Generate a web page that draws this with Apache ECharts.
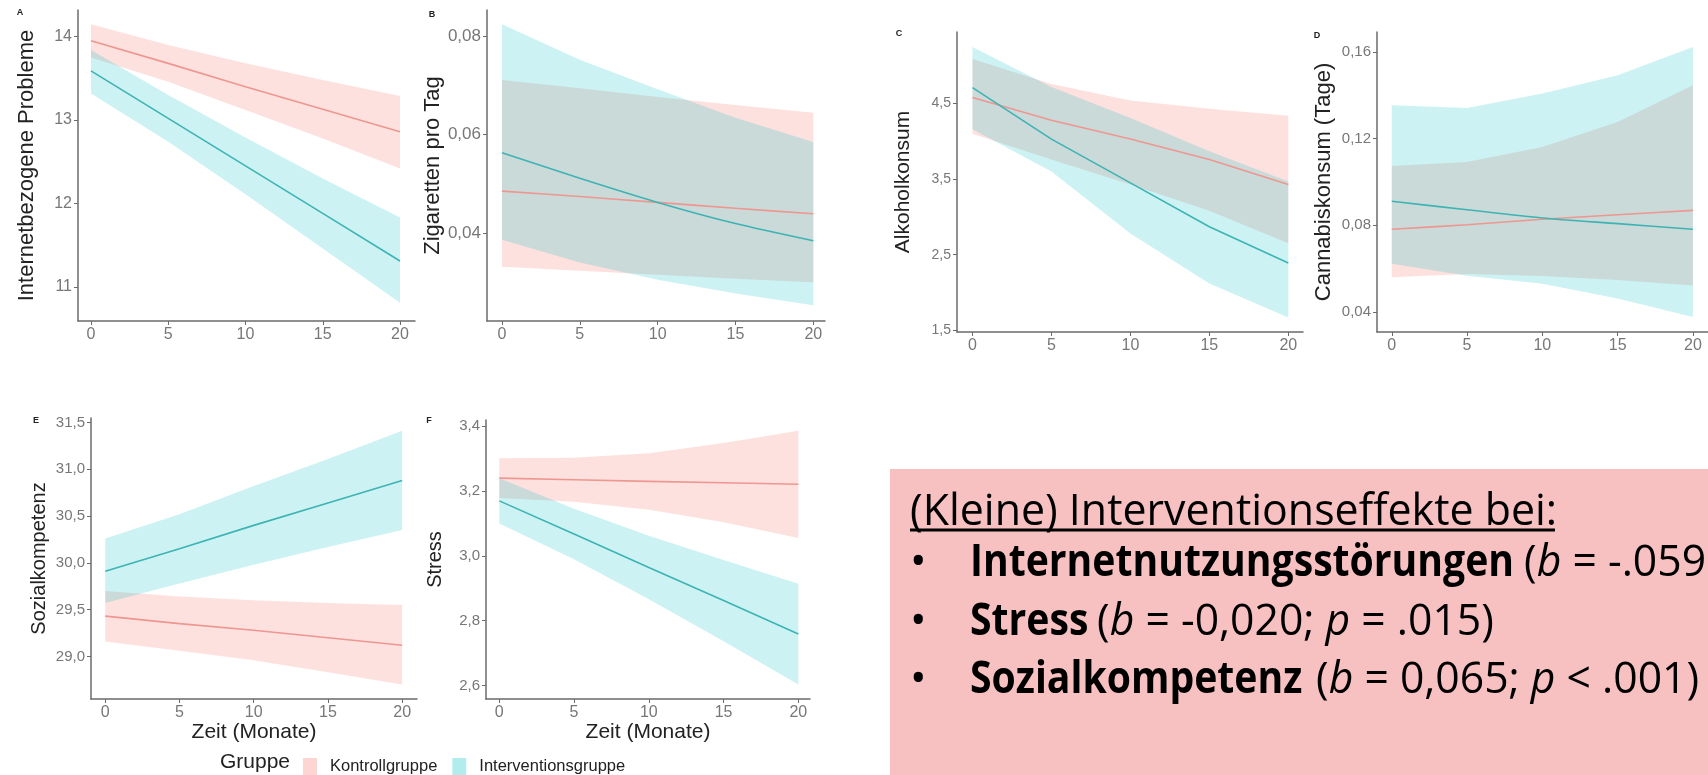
<!DOCTYPE html>
<html>
<head>
<meta charset="utf-8">
<script src="https://cdn.jsdelivr.net/npm/echarts@6/dist/echarts.min.js"></script>
<style>
    html, body { margin: 0; padding: 0; background: #fff; }
    #main { width: 1708px; height: 775px; }
</style>
</head>
<body>
<div id="main"></div>
<script>
'use strict';

// Zeitpunkte (Monate)
var months = [0, 5, 10, 15, 20];
var xTicks = [0, 5, 10, 15, 20];

// A: Internetbezogene Probleme
var probKontrolle = [13.95, 13.68, 13.40, 13.13, 12.86];
var probKontrolleOben = [14.15, 13.90, 13.68, 13.48, 13.29];
var probKontrolleUnten = [13.75, 13.46, 13.12, 12.78, 12.42];
var probIntervention = [13.59, 13.02, 12.45, 11.88, 11.31];
var probInterventionOben = [13.84, 13.30, 12.79, 12.30, 11.83];
var probInterventionUnten = [13.32, 12.74, 12.11, 11.46, 10.81];
var ticksA = [11, 12, 13, 14];

// B: Zigaretten pro Tag
var zigKontrolle = [0.0485, 0.0474, 0.0462, 0.0450, 0.0439];
var zigKontrolleOben = [0.0711, 0.0694, 0.0676, 0.0660, 0.0644];
var zigKontrolleUnten = [0.0331, 0.0323, 0.0315, 0.0307, 0.0300];
var zigIntervention = [0.0563, 0.0511, 0.0462, 0.0419, 0.0384];
var zigInterventionOben = [0.0824, 0.0752, 0.0692, 0.0634, 0.0585];
var zigInterventionUnten = [0.0386, 0.0340, 0.0305, 0.0277, 0.0253];
var ticksB = [0.04, 0.06, 0.08];

// C: Alkoholkonsum
var alkKontrolle = [4.58, 4.28, 4.03, 3.76, 3.43];
var alkKontrolleOben = [5.09, 4.76, 4.54, 4.43, 4.34];
var alkKontrolleUnten = [4.10, 3.76, 3.43, 3.08, 2.65];
var alkIntervention = [4.71, 4.03, 3.45, 2.87, 2.39];
var alkInterventionOben = [5.25, 4.72, 4.31, 3.87, 3.47];
var alkInterventionUnten = [4.16, 3.60, 2.78, 2.12, 1.67];
var ticksC = [1.5, 2.5, 3.5, 4.5];

// D: Cannabiskonsum (Tage)
var canKontrolle = [0.0782, 0.0803, 0.0828, 0.0849, 0.0869];
var canKontrolleOben = [0.1074, 0.1092, 0.1161, 0.1277, 0.1446];
var canKontrolleUnten = [0.0561, 0.0575, 0.0566, 0.0548, 0.0523];
var canIntervention = [0.0911, 0.0872, 0.0834, 0.0808, 0.0782];
var canInterventionOben = [0.1354, 0.1341, 0.1408, 0.1492, 0.1623];
var canInterventionUnten = [0.0623, 0.0568, 0.0531, 0.0462, 0.0377];
var ticksD = [0.04, 0.08, 0.12, 0.16];

// E: Sozialkompetenz
var sozKontrolle = [29.43, 29.35, 29.28, 29.20, 29.12];
var sozKontrolleOben = [29.70, 29.64, 29.60, 29.57, 29.55];
var sozKontrolleUnten = [29.16, 29.06, 28.96, 28.83, 28.70];
var sozIntervention = [29.91, 30.15, 30.40, 30.64, 30.88];
var sozInterventionOben = [30.26, 30.52, 30.82, 31.11, 31.41];
var sozInterventionUnten = [29.57, 29.78, 29.98, 30.17, 30.35];
var ticksE = [29.0, 29.5, 30.0, 30.5, 31.0, 31.5];

// F: Stress
var stressKontrolle = [3.239, 3.234, 3.229, 3.225, 3.220];
var stressKontrolleOben = [3.300, 3.302, 3.316, 3.347, 3.385];
var stressKontrolleUnten = [3.178, 3.166, 3.142, 3.103, 3.055];
var stressIntervention = [3.169, 3.067, 2.964, 2.862, 2.759];
var stressInterventionOben = [3.239, 3.145, 3.062, 2.987, 2.914];
var stressInterventionUnten = [3.099, 2.989, 2.866, 2.737, 2.604];
var ticksF = [2.6, 2.8, 3.0, 3.2, 3.4];

var gruppen = ['Kontrollgruppe', 'Interventionsgruppe'];

var font = 'Liberation Sans';
var axisGrey = '#6b6b6b';
var kontrollFill = 'rgba(248,118,109,0.22)';
var interventionFill = 'rgba(0,191,196,0.2)';
var kontrollLine = '#ee9690';
var interventionLine = '#3db3b4';

// Layout der sechs Teilgrafiken
var panels = [
    {letter: 'A', lx: 20, ly: 13, grid: {left: 78, top: 10, width: 337, height: 311}, x: [-0.84, 20.97], y: [10.59, 14.32],
        ticks: ticksA, dec: 0, title: 'Internetbezogene Probleme', titleSize: 22, gap: 40, tickSize: 16, smooth: false,
        k: [probKontrolle, probKontrolleOben, probKontrolleUnten], i: [probIntervention, probInterventionOben, probInterventionUnten]},
    {letter: 'B', lx: 432, ly: 15, grid: {left: 487, top: 10, width: 338, height: 311}, x: [-0.96, 20.75], y: [0.0221, 0.0853],
        ticks: ticksB, dec: 2, title: 'Zigaretten pro Tag', titleSize: 22, gap: 40, tickSize: 17, smooth: 0.25,
        k: [zigKontrolle, zigKontrolleOben, zigKontrolleUnten], i: [zigIntervention, zigInterventionOben, zigInterventionUnten]},
    {letter: 'C', lx: 899, ly: 34, grid: {left: 957, top: 32, width: 346, height: 300}, x: [-0.98, 20.93], y: [1.477, 5.447],
        ticks: ticksC, dec: 1, title: 'Alkoholkonsum', titleSize: 21, gap: 43, tickSize: 14, smooth: false,
        k: [alkKontrolle, alkKontrolleOben, alkKontrolleUnten], i: [alkIntervention, alkInterventionOben, alkInterventionUnten]},
    {letter: 'D', lx: 1317, ly: 36, grid: {left: 1377, top: 32, width: 345, height: 300}, x: [-0.98, 21], y: [0.0308, 0.1692],
        ticks: ticksD, dec: 2, title: 'Cannabiskonsum (Tage)', titleSize: 22, gap: 42, tickSize: 15, smooth: 0.25,
        k: [canKontrolle, canKontrolleOben, canKontrolleUnten], i: [canIntervention, canInterventionOben, canInterventionUnten]},
    {letter: 'E', lx: 36, ly: 421, grid: {left: 91, top: 418, width: 326, height: 281}, x: [-0.96, 21], y: [28.545, 31.547],
        ticks: ticksE, dec: 1, title: 'Sozialkompetenz', titleSize: 20, gap: 42, tickSize: 15, smooth: false, xName: 'Zeit (Monate)',
        k: [sozKontrolle, sozKontrolleOben, sozKontrolleUnten], i: [sozIntervention, sozInterventionOben, sozInterventionUnten]},
    {letter: 'F', lx: 429, ly: 421, grid: {left: 486, top: 420, width: 324, height: 279}, x: [-0.89, 20.78], y: [2.559, 3.418],
        ticks: ticksF, dec: 1, title: 'Stress', titleSize: 20, gap: 41, tickSize: 15, smooth: false, xName: 'Zeit (Monate)',
        k: [stressKontrolle, stressKontrolleOben, stressKontrolleUnten], i: [stressIntervention, stressInterventionOben, stressInterventionUnten]}
];

function xy(vals) {
    return months.map(function (m, i) { return [m, vals[i]]; });
}

// Konfidenzband als Polygon (custom series, Koordinaten ueber api.coord)
function band(idx, lower, upper, fill) {
    return {
        type: 'custom', xAxisIndex: idx, yAxisIndex: idx, silent: true, clip: true,
        data: months.map(function (m, i) { return [m, lower[i], upper[i]]; }),
        encode: {x: 0, y: [1, 2]},
        renderItem: function (params, api) {
            if (params.dataIndex !== 0) {
                return null;
            }
            var pts = [];
            for (var i = 0; i < months.length; i++) {
                pts.push(api.coord([months[i], upper[i]]));
            }
            for (var j = months.length - 1; j >= 0; j--) {
                pts.push(api.coord([months[j], lower[j]]));
            }
            return {type: 'polygon', shape: {points: pts}, style: {fill: fill}};
        }
    };
}

var grids = [], xAxes = [], yAxes = [], series = [], graphics = [];

panels.forEach(function (p, idx) {
    grids.push(Object.assign({containLabel: false}, p.grid));

    xAxes.push({
        type: 'value', gridIndex: idx, min: p.x[0], max: p.x[1],
        axisLine: {onZero: false, lineStyle: {color: axisGrey, width: 1.5}},
        axisTick: {show: true, length: 4, customValues: xTicks, lineStyle: {color: axisGrey}},
        axisLabel: {customValues: xTicks, fontSize: 16, color: '#777', margin: 6, fontFamily: font},
        splitLine: {show: false},
        name: p.xName || '', nameLocation: 'middle', nameGap: 20,
        nameTextStyle: {fontSize: 21, color: '#222', fontFamily: font}
    });

    yAxes.push({
        type: 'value', gridIndex: idx, min: p.y[0], max: p.y[1],
        axisLine: {show: true, onZero: false, lineStyle: {color: axisGrey, width: 1.5}},
        axisTick: {show: true, length: 4, customValues: p.ticks, lineStyle: {color: axisGrey}},
        axisLabel: {
            customValues: p.ticks, fontSize: p.tickSize, color: '#777', margin: 6, fontFamily: font,
            formatter: function (v) { return v.toFixed(p.dec).replace('.', ','); }
        },
        splitLine: {show: false},
        name: p.title, nameLocation: 'middle', nameGap: p.gap, nameRotate: 90,
        nameTextStyle: {fontSize: p.titleSize, color: '#222', fontFamily: font}
    });

    series.push(band(idx, p.k[2], p.k[1], kontrollFill));
    series.push(band(idx, p.i[2], p.i[1], interventionFill));
    series.push({name: gruppen[0], type: 'line', xAxisIndex: idx, yAxisIndex: idx, data: xy(p.k[0]),
        smooth: p.smooth, showSymbol: false, color: kontrollLine, lineStyle: {width: 1.6, color: kontrollLine}});
    series.push({name: gruppen[1], type: 'line', xAxisIndex: idx, yAxisIndex: idx, data: xy(p.i[0]),
        smooth: p.smooth, showSymbol: false, color: interventionLine, lineStyle: {width: 1.6, color: interventionLine}});

    graphics.push({type: 'text', x: p.lx, y: p.ly, style: {text: p.letter, font: 'bold 9px ' + font, fill: '#222',
        align: 'center', verticalAlign: 'middle'}});
});

// Legenden-Titel
graphics.push({type: 'text', x: 220, y: 762, style: {text: 'Gruppe', font: '21px ' + font, fill: '#222', verticalAlign: 'middle'}});

// Textkasten rechts unten
var box = '"Open Sans"';
graphics.push({type: 'rect', shape: {x: 890, y: 469, width: 818, height: 306}, style: {fill: '#f7c1c1'}});
graphics.push({type: 'text', x: 910, y: 512, scaleX: 0.975, style: {text: '(Kleine) Interventionseffekte bei:', font: '44px ' + box,
    fill: '#000', verticalAlign: 'middle'}});
graphics.push({type: 'line', shape: {x1: 910, y1: 530, x2: 1555, y2: 530}, style: {stroke: '#000', lineWidth: 3}});

var rich = {i: {font: 'italic 44px ' + box, fill: '#000'}};
var zeilen = [
    {y: 563, fett: 'Internetnutzungsstörungen', rest: ' ({i|b} = -.059', restX: 1513},
    {y: 622, fett: 'Stress', rest: ' ({i|b} = -0,020; {i|p} = .015)', restX: 1086},
    {y: 680, fett: 'Sozialkompetenz', rest: ' ({i|b} = 0,065; {i|p} < .001)', restX: 1305}
];
zeilen.forEach(function (z) {
    graphics.push({type: 'text', x: 910, y: z.y, style: {text: '•', font: '44px ' + box, fill: '#000', verticalAlign: 'middle'}});
    graphics.push({type: 'text', x: 970, y: z.y, scaleX: 0.89, style: {text: z.fett, font: 'bold 44px ' + box,
        fill: '#000', verticalAlign: 'middle'}});
    graphics.push({type: 'text', x: z.restX, y: z.y, scaleX: 0.97, style: {text: z.rest, font: '44px ' + box,
        fill: '#000', verticalAlign: 'middle', rich: rich}});
});

var myChart = echarts.init(document.getElementById('main'));
myChart.setOption({
    animation: false,
    backgroundColor: '#fff',
    grid: grids,
    xAxis: xAxes,
    yAxis: yAxes,
    legend: {
        left: 298, top: 753, icon: 'rect', itemWidth: 14, itemHeight: 17, itemGap: 15,
        data: [
            {name: gruppen[0], itemStyle: {color: 'rgba(248,118,109,0.3)'}},
            {name: gruppen[1], itemStyle: {color: 'rgba(0,191,196,0.3)'}}
        ],
        textStyle: {fontSize: 16.5, color: '#222', fontFamily: font, padding: [0, 0, 0, 8]}
    },
    graphic: graphics,
    series: series
});
</script>
</body>
</html>
